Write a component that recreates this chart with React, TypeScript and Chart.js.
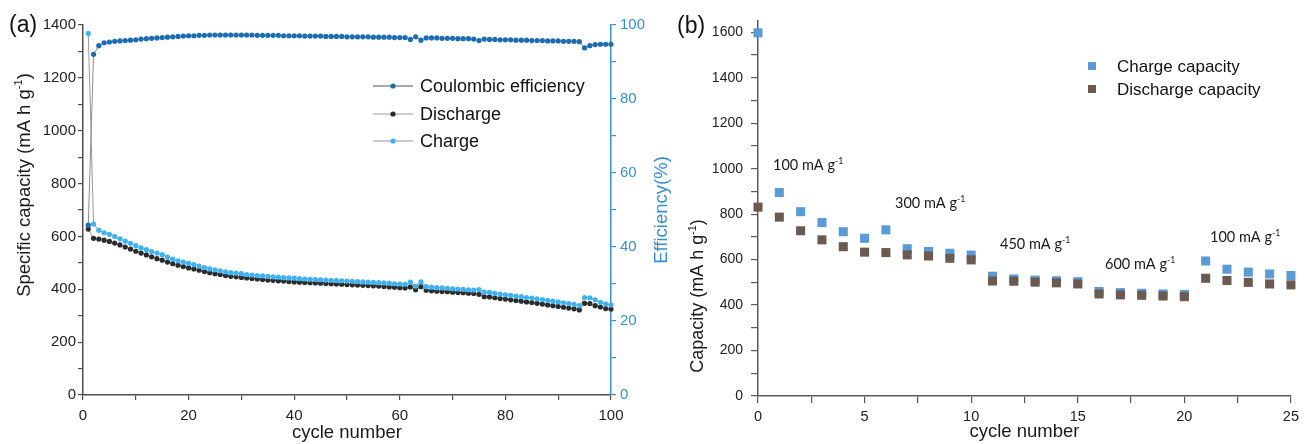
import React, { useEffect, useRef } from "react";
import { Chart, registerables } from "chart.js";

Chart.register(...registerables);

const SANS = '"Liberation Sans", Arial, Helvetica, sans-serif';
const ANNO = 'Lato, "Open Sans", sans-serif';

// ---------- Panel (a) data ----------
const cyclesA = [
  1, 2, 3, 4, 5, 6, 7, 8, 9, 10, 11, 12, 13, 14, 15, 16, 17, 18, 19, 20,
  21, 22, 23, 24, 25, 26, 27, 28, 29, 30, 31, 32, 33, 34, 35, 36, 37, 38, 39, 40,
  41, 42, 43, 44, 45, 46, 47, 48, 49, 50, 51, 52, 53, 54, 55, 56, 57, 58, 59, 60,
  61, 62, 63, 64, 65, 66, 67, 68, 69, 70, 71, 72, 73, 74, 75, 76, 77, 78, 79, 80,
  81, 82, 83, 84, 85, 86, 87, 88, 89, 90, 91, 92, 93, 94, 95, 96, 97, 98, 99, 100,
];
const coulombicEfficiency = [
  45.9, 92.1, 94.4, 95.2, 95.4, 95.6, 95.7, 95.8, 95.9, 96.0,
  96.2, 96.3, 96.4, 96.5, 96.6, 96.7, 96.8, 96.9, 97.0, 97.1,
  97.1, 97.2, 97.2, 97.3, 97.3, 97.3, 97.3, 97.3, 97.3, 97.3,
  97.3, 97.3, 97.2, 97.2, 97.2, 97.2, 97.2, 97.1, 97.1, 97.1,
  97.1, 97.0, 97.0, 97.0, 97.0, 96.9, 96.9, 96.9, 96.9, 96.8,
  96.8, 96.8, 96.8, 96.8, 96.7, 96.7, 96.7, 96.7, 96.6, 96.6,
  96.6, 96.1, 96.8, 95.9, 96.5, 96.5, 96.5, 96.4, 96.4, 96.4,
  96.3, 96.3, 96.3, 96.2, 95.8, 96.2, 96.1, 96.1, 96.0, 96.0,
  96.0, 95.9, 95.9, 95.9, 95.8, 95.8, 95.8, 95.7, 95.7, 95.7,
  95.6, 95.6, 95.6, 95.5, 93.8, 94.4, 94.7, 94.8, 94.8, 94.8,
];
const dischargeA = [
  628, 593, 590, 586, 581, 575, 568, 560, 552, 544,
  537, 530, 523, 516, 510, 503, 497, 491, 486, 481,
  477, 472, 467, 463, 459, 456, 452, 449, 447, 445,
  443, 441, 439, 437, 435, 434, 432, 431, 429, 428,
  427, 426, 425, 424, 423, 422, 421, 420, 419, 418,
  417, 416, 415, 414, 413, 412, 411, 409, 408, 406,
  405, 409, 398, 410, 396, 394, 393, 392, 391, 389,
  388, 387, 385, 384, 381, 372, 371, 368, 365, 363,
  360, 358, 355, 352, 350, 347, 344, 341, 338, 335,
  332, 329, 326, 322, 347, 346, 338, 333, 327, 325,
];
const chargeA = [
  1368, 647, 623, 614, 608, 600, 591, 582, 574, 565,
  557, 550, 543, 537, 531, 522, 514, 508, 503, 498,
  493, 488, 482, 477, 474, 470, 466, 463, 461, 459,
  456, 454, 452, 451, 449, 447, 446, 444, 443, 442,
  440, 439, 438, 437, 436, 435, 434, 433, 432, 431,
  430, 429, 428, 427, 426, 425, 424, 423, 421, 420,
  419, 427, 412, 428, 410, 408, 406, 405, 404, 402,
  401, 400, 398, 397, 399, 389, 388, 385, 382, 379,
  377, 374, 372, 369, 367, 364, 361, 358, 355, 352,
  349, 346, 343, 338, 369, 368, 360, 351, 345, 341,
];
const xTickLabelsA = [0, 20, 40, 60, 80, 100];
const capTickLabelsA = [0, 200, 400, 600, 800, 1000, 1200, 1400];
const effTickLabelsA = [0, 20, 40, 60, 80, 100];

// ---------- Panel (b) data ----------
const cyclesB = [0, 1, 2, 3, 4, 5, 6, 7, 8, 9, 10, 11, 12, 13, 14, 15, 16, 17, 18, 19, 20, 21, 22, 23, 24, 25];
const chargeB = [1598, 895, 811, 763, 723, 694, 731, 648, 636, 628, 620, 527, 515, 510, 507, 503, 460, 455, 452, 449, 447, 594, 558, 545, 537, 530];
const dischargeB = [831, 787, 727, 687, 657, 633, 631, 621, 616, 606, 599, 506, 505, 501, 498, 493, 449, 445, 443, 440, 437, 518, 508, 500, 493, 489];
const xTickLabelsB = [0, 5, 10, 15, 20, 25];
const capTickLabelsB = [0, 200, 400, 600, 800, 1000, 1200, 1400, 1600];
const rateLabels = ["100", "300", "450", "600", "100"];

type Part = [string, boolean];

function richWidth(ctx: CanvasRenderingContext2D, parts: Part[], size: number, family: string) {
  let w = 0;
  for (const [t, sup] of parts) {
    ctx.font = `${sup ? size * 0.6 : size}px ${family}`;
    w += ctx.measureText(t).width;
  }
  return w;
}

function drawRich(ctx: CanvasRenderingContext2D, parts: Part[], x: number, y: number, size: number, family: string, color: string) {
  ctx.fillStyle = color;
  ctx.textBaseline = "alphabetic";
  ctx.textAlign = "left";
  let cx = x;
  for (const [t, sup] of parts) {
    ctx.font = `${sup ? size * 0.6 : size}px ${family}`;
    ctx.fillText(t, cx, sup ? y - size * 0.4 : y);
    cx += ctx.measureText(t).width;
  }
}

function drawVertical(ctx: CanvasRenderingContext2D, parts: Part[], baseX: number, centerY: number, size: number, family: string, color: string) {
  ctx.save();
  ctx.translate(baseX, centerY);
  ctx.rotate(-Math.PI / 2);
  const w = richWidth(ctx, parts, size, family);
  drawRich(ctx, parts, -w / 2, 0, size, family, color);
  ctx.restore();
}

const AXIS_GREY = "#4f4f4f";
const EFF_BLUE = "#3a8ed3";
const CE_COLOR = "#1c6cb4";
const DIS_COLOR = "#2b2b2b";
const CHG_COLOR = "#3fb2f4";
const B_CHG = "#5b9bd5";
const B_DIS = "#6b5a50";

const panelAText = {
  id: "panelAText",
  afterDraw(chart: any) {
    const ctx: CanvasRenderingContext2D = chart.ctx;
    ctx.save();
    drawRich(ctx, [["(a)", false]], 9, 32, 23, SANS, "#111");
    drawVertical(ctx, [["Specific capacity (mA h g", false], ["-1", true], [")", false]], 29.5, 185, 18.5, SANS, "#1a1a1a");
    drawVertical(ctx, [["Efficiency(%)", false]], 667, 210, 18.5, SANS, EFF_BLUE);
    const rows: [string, string, string, number][] = [
      ["Coulombic efficiency", CE_COLOR, "#555", 86],
      ["Discharge", DIS_COLOR, "#9a9a9a", 114],
      ["Charge", CHG_COLOR, "#9a9a9a", 141],
    ];
    for (const [label, dot, line, y] of rows) {
      ctx.strokeStyle = line;
      ctx.lineWidth = 1.2;
      ctx.beginPath();
      ctx.moveTo(373, y);
      ctx.lineTo(413, y);
      ctx.stroke();
      ctx.fillStyle = dot;
      ctx.beginPath();
      ctx.arc(393, y, 2.6, 0, Math.PI * 2);
      ctx.fill();
      ctx.fillStyle = "#111";
      ctx.font = `18px ${SANS}`;
      ctx.textBaseline = "middle";
      ctx.textAlign = "left";
      ctx.fillText(label, 420, y + 1);
    }
    ctx.restore();
  },
};

const panelBText = {
  id: "panelBText",
  afterDraw(chart: any) {
    const ctx: CanvasRenderingContext2D = chart.ctx;
    ctx.save();
    drawRich(ctx, [["(b)", false]], 17, 33, 23, SANS, "#111");
    drawVertical(ctx, [["Capacity (mA h g", false], ["-1", true], [")", false]], 43, 296, 18, SANS, "#1a1a1a");
    const pos: [number, number][] = [
      [113, 170],
      [235, 208],
      [340, 249],
      [445, 269],
      [550, 242],
    ];
    rateLabels.forEach((r, i) => {
      drawRich(ctx, [[`${r} mA g`, false], ["-1", true]], pos[i][0], pos[i][1], 14.5, ANNO, "#1a1a1a");
    });
    const leg: [string, string, number][] = [
      ["Charge capacity", B_CHG, 66],
      ["Discharge capacity", B_DIS, 89],
    ];
    for (const [label, col, y] of leg) {
      ctx.fillStyle = col;
      ctx.fillRect(428, y - 4, 8, 8);
      ctx.fillStyle = "#111";
      ctx.font = `17px ${SANS}`;
      ctx.textBaseline = "middle";
      ctx.textAlign = "left";
      ctx.fillText(label, 457, y + 1);
    }
    ctx.restore();
  },
};

function majorOnly(list: number[]) {
  return (v: any) => (list.includes(Number(v)) ? String(v) : "");
}

export default function App() {
  const refA = useRef<HTMLCanvasElement | null>(null);
  const refB = useRef<HTMLCanvasElement | null>(null);

  useEffect(() => {
    const pts = (xs: number[], ys: number[]) => xs.map((x, i) => ({ x, y: ys[i] }));

    const chartA = new Chart(refA.current!, {
      type: "scatter",
      data: {
        datasets: [
          {
            label: "Coulombic efficiency",
            data: pts(cyclesA, coulombicEfficiency),
            yAxisID: "y1",
            showLine: true,
            borderColor: "#8c8c8c",
            borderWidth: 1,
            pointBackgroundColor: CE_COLOR,
            pointBorderWidth: 0,
            pointRadius: 2.6,
            clip: false,
            order: 0,
          },
          {
            label: "Discharge",
            data: pts(cyclesA, dischargeA),
            yAxisID: "y",
            showLine: true,
            borderColor: "#9a9a9a",
            borderWidth: 1,
            pointBackgroundColor: DIS_COLOR,
            pointBorderWidth: 0,
            pointRadius: 2.6,
            clip: false,
            order: 2,
          },
          {
            label: "Charge",
            data: pts(cyclesA, chargeA),
            yAxisID: "y",
            showLine: true,
            borderColor: "#9a9a9a",
            borderWidth: 1,
            pointBackgroundColor: CHG_COLOR,
            pointBorderWidth: 0,
            pointRadius: 2.6,
            clip: false,
            order: 1,
          },
        ],
      },
      options: {
        responsive: false,
        animation: false,
        events: [],
        layout: { padding: { top: 25, left: 0, right: 0, bottom: 0 } },
        plugins: { legend: { display: false }, tooltip: { enabled: false } },
        scales: {
          x: {
            type: "linear",
            min: 0,
            max: 100,
            position: "bottom",
            afterFit: (s: any) => { s.height = 49; },
            ticks: {
              stepSize: 10,
              autoSkip: false,
              maxRotation: 0,
              padding: 7,
              color: "#222",
              font: { family: SANS, size: 15 },
              callback: majorOnly(xTickLabelsA),
            },
            grid: { drawOnChartArea: false, drawTicks: true, tickLength: 5, color: AXIS_GREY, lineWidth: 1.2 },
            border: { display: true, color: AXIS_GREY, width: 1.5 },
            title: { display: true, text: "cycle number", color: "#1a1a1a", font: { family: SANS, size: 18.5 }, padding: { top: 0, bottom: 0 } },
          },
          y: {
            type: "linear",
            min: 0,
            max: 1400,
            position: "left",
            afterFit: (s: any) => { s.width = 83; },
            ticks: {
              stepSize: 100,
              autoSkip: false,
              padding: 2,
              color: "#222",
              font: { family: SANS, size: 15 },
              callback: majorOnly(capTickLabelsA),
            },
            grid: { drawOnChartArea: false, drawTicks: true, tickLength: 5, color: AXIS_GREY, lineWidth: 1.2 },
            border: { display: true, color: AXIS_GREY, width: 1.5 },
            title: { display: false },
          },
          y1: {
            type: "linear",
            min: 0,
            max: 100,
            position: "right",
            afterFit: (s: any) => { s.width = 69; },
            ticks: {
              stepSize: 10,
              autoSkip: false,
              padding: 4,
              color: EFF_BLUE,
              font: { family: SANS, size: 15 },
              callback: majorOnly(effTickLabelsA),
            },
            grid: { drawOnChartArea: false, drawTicks: true, tickLength: 5, color: EFF_BLUE, lineWidth: 1.2 },
            border: { display: true, color: EFF_BLUE, width: 1.5 },
            title: { display: false },
          },
        },
      } as any,
      plugins: [panelAText],
    });

    const chartB = new Chart(refB.current!, {
      type: "scatter",
      data: {
        datasets: [
          {
            label: "Charge capacity",
            data: pts(cyclesB, chargeB),
            pointStyle: "rect",
            pointRadius: 6.4,
            pointBorderWidth: 0,
            backgroundColor: B_CHG,
            pointBackgroundColor: B_CHG,
            clip: false,
            order: 1,
          },
          {
            label: "Discharge capacity",
            data: pts(cyclesB, dischargeB),
            pointStyle: "rect",
            pointRadius: 6.4,
            pointBorderWidth: 0,
            backgroundColor: B_DIS,
            pointBackgroundColor: B_DIS,
            clip: false,
            order: 0,
          },
        ],
      },
      options: {
        responsive: false,
        animation: false,
        events: [],
        layout: { padding: { top: 21, left: 0, right: 10, bottom: 0 } },
        plugins: { legend: { display: false }, tooltip: { enabled: false } },
        scales: {
          x: {
            type: "linear",
            min: 0,
            max: 25,
            position: "bottom",
            afterFit: (s: any) => { s.height = 48; },
            ticks: {
              stepSize: 2.5,
              autoSkip: false,
              maxRotation: 0,
              padding: 5,
              color: "#222",
              font: { family: SANS, size: 14.5 },
              callback: majorOnly(xTickLabelsB),
            },
            grid: { drawOnChartArea: false, drawTicks: true, tickLength: 7, color: "#5a5a5a", lineWidth: 1.2 },
            border: { display: true, color: "#5a5a5a", width: 1.5 },
            title: { display: true, text: "cycle number", color: "#1a1a1a", font: { family: SANS, size: 18.5 }, padding: { top: 0, bottom: 1 } },
          },
          y: {
            type: "linear",
            min: 0,
            max: 1650,
            position: "left",
            afterFit: (s: any) => { s.width = 98; },
            ticks: {
              stepSize: 100,
              autoSkip: false,
              includeBounds: false,
              padding: 8,
              color: "#222",
              font: { family: SANS, size: 14 },
              callback: majorOnly(capTickLabelsB),
            },
            grid: { drawOnChartArea: false, drawTicks: true, tickLength: 7, color: "#5a5a5a", lineWidth: 1.2 },
            border: { display: true, color: "#5a5a5a", width: 1.5 },
            title: { display: false },
          },
        },
      } as any,
      plugins: [panelBText],
    });

    return () => {
      chartA.destroy();
      chartB.destroy();
    };
  }, []);

  return (
    <div style={{ position: "fixed", left: 0, top: 0, width: 1304, height: 444, background: "#fff" }}>
      <canvas ref={refB} width={644} height={444} style={{ position: "absolute", left: 660, top: 0, width: 644, height: 444 }} />
      <canvas ref={refA} width={680} height={444} style={{ position: "absolute", left: 0, top: 0, width: 680, height: 444 }} />
    </div>
  );
}
